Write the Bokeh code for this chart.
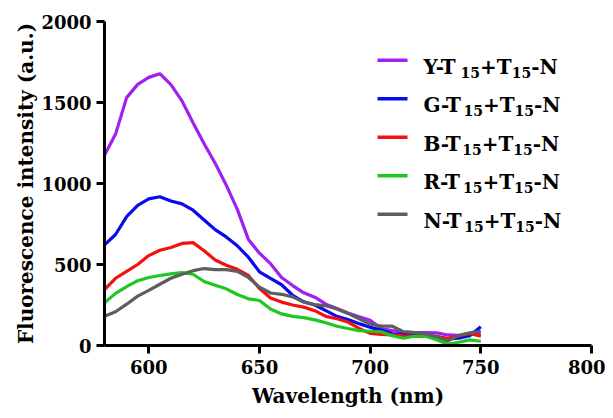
from bokeh.plotting import figure
from bokeh.models import Range1d, FixedTicker, Label, BoxAnnotation
from bokeh.embed import file_html
from bokeh.resources import INLINE

# ---- data ----
wavelength = list(range(580, 755, 5))

y_t15 = [1175, 1305, 1530, 1612, 1655, 1678, 1610, 1510, 1375, 1245, 1125, 990,
         840, 655, 570, 505, 420, 370, 325, 298, 255, 228, 200, 178, 155, 105,
         92, 85, 80, 80, 78, 65, 62, 68, 68]
g_t15 = [621, 685, 795, 865, 905, 918, 892, 874, 835, 775, 715, 670, 615, 545,
         455, 415, 375, 310, 270, 250, 215, 180, 160, 135, 112, 95, 72, 70, 65,
         60, 55, 40, 45, 60, 115]
b_t15 = [345, 415, 458, 500, 555, 588, 605, 630, 635, 585, 528, 495, 470, 432,
         352, 293, 268, 250, 237, 215, 180, 165, 145, 105, 75, 68, 65, 60, 57,
         60, 55, 45, 60, 75, 57]
r_t15 = [263, 322, 363, 400, 420, 432, 442, 450, 440, 395, 372, 350, 315, 288,
         278, 225, 195, 180, 172, 158, 140, 119, 105, 92, 88, 85, 60, 45, 57,
         57, 35, 8, 20, 35, 26]
n_t15 = [180, 208, 255, 305, 340, 378, 415, 440, 462, 475, 468, 468, 458, 420,
         360, 324, 316, 300, 268, 252, 245, 225, 198, 165, 132, 120, 119, 85,
         80, 72, 55, 28, 62, 78, 88]

series_prefix = ["Y", "G", "B", "R", "N"]
series_values = [y_t15, g_t15, b_t15, r_t15, n_t15]
series_colors = ["#A020F0", "#0A0AF0", "#F51010", "#1EC81E", "#5E5E5E"]

x_ticks = [600, 650, 700, 750, 800]
y_ticks = [0, 500, 1000, 1500, 2000]

FONT = "DejaVu Serif"

p = figure(width=605, height=410, output_backend="svg", toolbar_location=None,
           x_range=Range1d(580, 800), y_range=Range1d(0, 2000),
           min_border_left=104, min_border_right=14, min_border_top=21,
           min_border_bottom=64)
p.outline_line_color = None
p.grid.visible = False
p.background_fill_color = "white"

for vals, col in zip(series_values, series_colors):
    p.line(wavelength, vals, line_color=col, line_width=3.2)

p.xaxis.ticker = FixedTicker(ticks=x_ticks)
p.yaxis.ticker = FixedTicker(ticks=y_ticks)
for ax in (p.xaxis, p.yaxis):
    ax.axis_line_width = 3
    ax.axis_line_color = "black"
    ax.major_tick_line_width = 3
    ax.major_tick_line_color = "black"
    ax.major_tick_in = 0
    ax.major_tick_out = 8
    ax.minor_tick_in = 0
    ax.minor_tick_out = 0
    ax.major_label_text_font = FONT
    ax.major_label_text_font_style = "bold"
    ax.major_label_text_font_size = "18px"
    ax.major_label_text_color = "black"
    ax.axis_label_text_font = FONT
    ax.axis_label_text_font_style = "bold"
    ax.axis_label_text_color = "black"
p.xaxis.axis_label = "Wavelength (nm)"
p.xaxis.axis_label_text_font_size = "20px"
p.xaxis.major_label_standoff = 6
p.xaxis.axis_label_standoff = 7
p.yaxis.axis_label = "Fluorescence intensity (a.u.)"
p.yaxis.axis_label_text_font_size = "20px"
p.yaxis.major_label_standoff = 5
p.yaxis.axis_label_standoff = 0

# ---- legend (manual, to allow subscripts) ----
em = {"Y": .70, "G": .84, "B": .78, "R": .82, "N": .88, "-": .416,
      "T": .74, "+": .838, "1": .696, "5": .696}
def width(s, size):
    return sum(em[c] for c in s) * size

MAIN, SUB = 20, 14
row_centers = [285.3, 246.8, 208.3, 169.8, 131.3]
for pre, col, yc in zip(series_prefix, series_colors, row_centers):
    p.add_layout(BoxAnnotation(left=273, right=303, bottom=yc - 1.8, top=yc + 1.8,
                               left_units="screen", right_units="screen",
                               bottom_units="screen", top_units="screen",
                               fill_color=col, fill_alpha=1, line_alpha=0))
    x = 319
    base = yc - 6.5
    pieces = [(pre + "-T", MAIN, 0), ("15", SUB, -5.5), ("+T", MAIN, 0),
              ("15", SUB, -5.5), ("-N", MAIN, 0)]
    for txt, sz, dy in pieces:
        p.add_layout(Label(x=x, y=base + dy, x_units="screen", y_units="screen",
                           text=txt, text_font=FONT, text_font_style="bold",
                           text_font_size=f"{sz}px", text_color="black",
                           text_baseline="alphabetic", text_align="left"))
        x += width(txt, sz)

open("out.html", "w").write(file_html(p, INLINE))
